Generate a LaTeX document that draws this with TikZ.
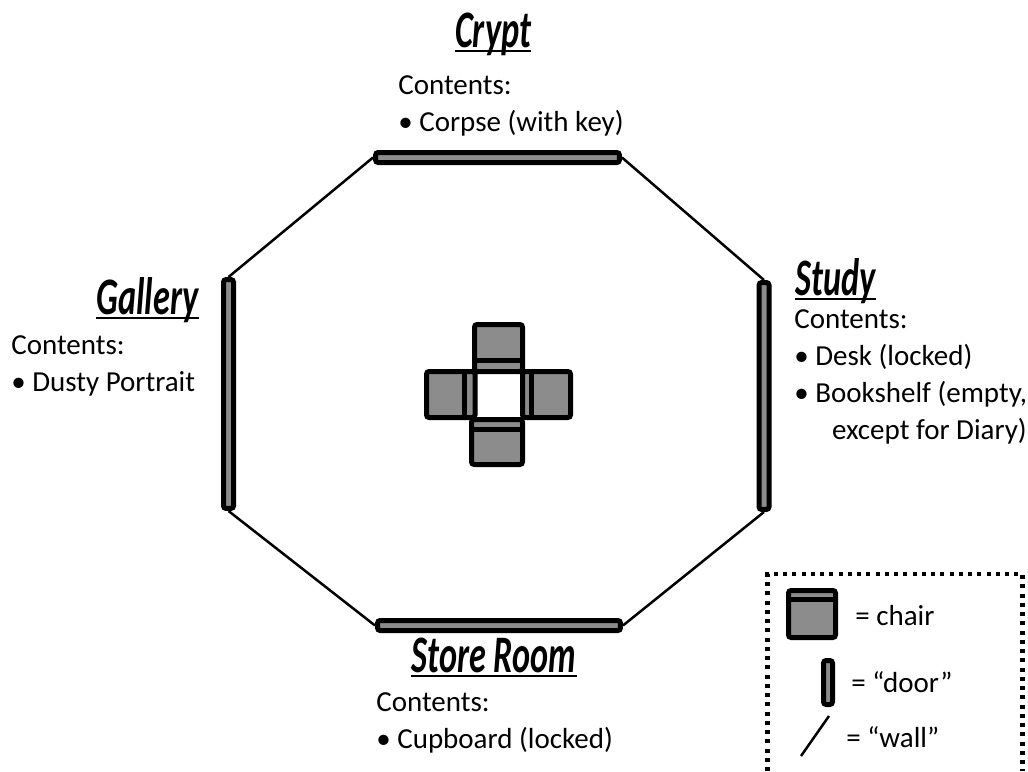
\documentclass[tikz,border=0pt]{standalone}
\usepackage{fontspec}
\setmainfont{Carlito}
\usepackage{graphicx}
\definecolor{doorgray}{RGB}{140,140,140}
\tikzset{
  door/.style={draw, line width=0.1cm, fill=doorgray, rounded corners=1.5pt, inner sep=0pt},
  wall/.style={line width=0.05cm},
  chair/.style={draw, line width=0.1cm, fill=doorgray, rounded corners=1.5pt},
  chairback/.style={line width=0.1cm},
  roomname/.style={inner sep=0pt, anchor=base},
  underlined/.style={line width=0.04cm},
  contents/.style={inner sep=0pt, anchor=base west, align=left, font=\fontsize{16.5}{21}\selectfont},
  keytext/.style={inner sep=0pt, anchor=base west, font=\fontsize{16.5}{21}\selectfont},
  keybox/.style={line width=0.09cm, dash pattern=on 0.08cm off 0.105cm}
}
\newcommand{\roomfont}[1]{\scalebox{0.65}[1]{\fontsize{30}{30}\selectfont\bfseries\itshape #1}}
\begin{document}
\begin{tikzpicture}[x=0.02cm,y=-0.02cm]
\useasboundingbox (0,0) rectangle (1028,771);

% doors and walls
\node[door, minimum width=4.88cm, minimum height=0.2cm] (cryptdoor) at (497.5,157.5) {};
\node[door, minimum width=0.2cm, minimum height=4.58cm] (gallerydoor) at (228.5,394) {};
\node[door, minimum width=0.2cm, minimum height=4.54cm] (studydoor) at (764,396) {};
\node[door, minimum width=4.86cm, minimum height=0.2cm] (storedoor) at (499,625.5) {};
\draw[wall] (cryptdoor.west) -- (gallerydoor.north);
\draw[wall] (cryptdoor.east) -- (studydoor.north);
\draw[wall] (studydoor.south) -- (storedoor.east);
\draw[wall] (storedoor.west) -- (gallerydoor.south);

% chairs
\draw[chair] (474.5,324.5) rectangle (522.5,371.5);
\draw[chairback] (474.5,360.5) -- (522.5,360.5);
\draw[chair] (426.5,371.5) rectangle (475,417.5);
\draw[chairback] (464,371.5) -- (464,417.5);
\draw[chair] (522.5,371.5) rectangle (570.5,417.5);
\draw[chairback] (531,371.5) -- (531,417.5);
\draw[chair] (471.5,419.5) rectangle (522.5,464.5);
\draw[chairback] (471.5,429) -- (522.5,429);

% room names
\node[roomname] (crypt) at (493,47) {\roomfont{Crypt}};
\draw[underlined] ([yshift=-0.08cm]crypt.base west) -- ([yshift=-0.08cm]crypt.base east);
\node[roomname] (gallery) at (147.5,314) {\roomfont{Gallery}};
\draw[underlined] ([yshift=-0.08cm]gallery.base west) -- ([yshift=-0.08cm]gallery.base east);
\node[roomname] (study) at (835.5,295) {\roomfont{Study}};
\draw[underlined] ([yshift=-0.08cm]study.base west) -- ([yshift=-0.08cm]study.base east);
\node[roomname] (store) at (494,672) {\roomfont{Store Room}};
\draw[underlined] ([yshift=-0.08cm]store.base west) -- ([yshift=-0.08cm]store.base east);

% contents (anchored on the last line)
\node[contents] (cryptlist) at (398,131) {Contents:\\• Corpse (with key)};
\node[contents] (gallerylist) at (11,391) {Contents:\\• Dusty Portrait};
\node[contents] (studylist) at (794,439) {Contents:\\• Desk (locked)\\• Bookshelf (empty,\\\hspace*{1.3em}except for Diary)};
\node[contents] (storelist) at (376,748) {Contents:\\• Cupboard (locked)};

% key
\draw[keybox] (767.5,771) -- (767.5,574) -- (1022.5,574) -- (1022.5,771);
\draw[chair] (788.5,590.5) rectangle (835.5,637.5);
\draw[chairback] (788.5,599) -- (835.5,599);
\node[keytext] (keychair) at (855,625) {= chair};
\node[door, minimum width=0.18cm, minimum height=0.88cm] (keydoor) at (828,682.5) {};
\node[keytext] (keydoortext) at (851,692) {= “door”};
\draw[wall] (829,716) -- (801,756);
\node[keytext] (keywall) at (846,747) {= “wall”};
\end{tikzpicture}
\end{document}
